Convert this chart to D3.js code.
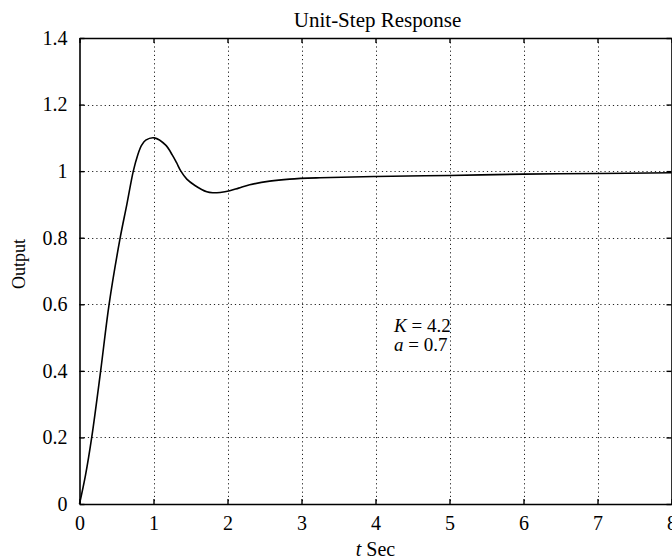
<!DOCTYPE html>
<html>
<head>
<meta charset="utf-8">
<script src="https://cdn.jsdelivr.net/npm/d3@7"></script>
<style>
  html, body { margin: 0; padding: 0; background: #fff; }
  svg { display: block; }
  text { font-family: "Liberation Serif", "Times New Roman", serif; fill: #000; }
</style>
</head>
<body>
<svg id="chart" width="672" height="560"></svg>
<script>
// ---- data ----
const timeSec = [0, 0.08, 0.165, 0.286, 0.40, 0.55, 0.64, 0.727, 0.786, 0.84, 0.895, 1.01, 1.165, 1.255, 1.31, 1.37, 1.45, 1.56, 1.72, 1.80, 1.90, 2.03, 2.15, 2.30, 2.57, 2.84, 3.25, 4.0, 5.0, 6.0, 7.0, 8.0];
const outputValues = [0, 0.085, 0.2, 0.4, 0.6, 0.8, 0.9, 1.0, 1.048, 1.078, 1.093, 1.10, 1.078, 1.048, 1.026, 1.0, 0.976, 0.957, 0.938, 0.935, 0.936, 0.941, 0.949, 0.959, 0.970, 0.976, 0.980, 0.984, 0.987, 0.991, 0.993, 0.995];
const xTickValues = [0, 1, 2, 3, 4, 5, 6, 7, 8];
const xTickLabels = ["0", "1", "2", "3", "4", "5", "6", "7", "8"];
const yTickValues = [0, 0.2, 0.4, 0.6, 0.8, 1.0, 1.2, 1.4];
const yTickLabels = ["0", "0.2", "0.4", "0.6", "0.8", "1", "1.2", "1.4"];
const titleText = "Unit-Step Response";
const yLabelText = "Output";
const paramLines = [["K", " = 4.2"], ["a", " = 0.7"]];

(function () {
// ---- layout ----
const svg = d3.select("#chart");
const pL = 79.5, pT = 38, pR = 671.5, pB = 504;
const x = d3.scaleLinear().domain([0, 8]).range([pL, pR]);
const y = d3.scaleLinear().domain([0, 1.4]).range([pB, pT]);
const fontSize = 20;

// gridlines
const grid = svg.append("g").attr("class", "grid");
grid.selectAll("line.vx").data(xTickValues.slice(1, -1)).join("line")
  .attr("x1", d => Math.round(x(d)) + 0.5).attr("x2", d => Math.round(x(d)) + 0.5)
  .attr("y1", pT).attr("y2", pB)
  .attr("stroke", "#222").attr("stroke-width", 1).attr("stroke-dasharray", "1.2,3");
grid.selectAll("line.hy").data(yTickValues.slice(1, -1)).join("line")
  .attr("y1", d => Math.round(y(d)) + 0.5).attr("y2", d => Math.round(y(d)) + 0.5)
  .attr("x1", pL).attr("x2", pR)
  .attr("stroke", "#222").attr("stroke-width", 1).attr("stroke-dasharray", "1.2,3");

// axes
const xFmt = (d) => xTickLabels[xTickValues.indexOf(d)];
const yFmt = (d) => yTickLabels[yTickValues.indexOf(d)];

function styleAxis(g) {
  g.selectAll("path.domain").attr("stroke", "#000").attr("stroke-width", 1.6);
  g.selectAll(".tick line").attr("stroke", "#000").attr("stroke-width", 1.4);
  g.selectAll(".tick text").style("font-family", "Liberation Serif, serif").style("font-size", fontSize + "px").attr("fill", "#000");
}

svg.append("g").attr("transform", `translate(0,${pB})`)
  .call(d3.axisBottom(x).tickValues(xTickValues).tickFormat(xFmt).tickSizeInner(-5).tickSizeOuter(0).tickPadding(12))
  .call(styleAxis);
svg.append("g").attr("transform", `translate(0,${pT})`)
  .call(d3.axisTop(x).tickValues(xTickValues).tickFormat("").tickSizeInner(-5).tickSizeOuter(0))
  .call(styleAxis);
svg.append("g").attr("transform", `translate(${pL},0)`)
  .call(d3.axisLeft(y).tickValues(yTickValues).tickFormat(yFmt).tickSizeInner(-5).tickSizeOuter(0).tickPadding(12))
  .call(styleAxis);
svg.append("g").attr("transform", `translate(${pR},0)`)
  .call(d3.axisRight(y).tickValues(yTickValues).tickFormat("").tickSizeInner(-5).tickSizeOuter(0))
  .call(styleAxis);

// response curve
const line = d3.line().x((d, i) => x(timeSec[i])).y(d => y(d)).curve(d3.curveCatmullRom.alpha(0.5));
svg.append("path").datum(outputValues)
  .attr("d", line).attr("fill", "none").attr("stroke", "#000").attr("stroke-width", 1.6);

// title
svg.append("text").attr("x", (pL + pR) / 2 + 2).attr("y", 27)
  .attr("text-anchor", "middle").style("font-size", "21px").text(titleText);

// x label
const xl = svg.append("text").attr("x", (pL + pR) / 2).attr("y", 556)
  .attr("text-anchor", "middle").style("font-size", fontSize + "px");
xl.append("tspan").style("font-style", "italic").text("t");
xl.append("tspan").text(" Sec");

// y label
svg.append("text").attr("transform", `translate(25,264) rotate(-90)`)
  .attr("text-anchor", "middle").style("font-size", "18px").text(yLabelText);

// parameter annotation
const ann = svg.append("g");
paramLines.forEach((p, i) => {
  const t = ann.append("text").attr("x", x(4.25)).attr("y", y(0.516) + i * 19)
    .style("font-size", "19px");
  t.append("tspan").style("font-style", "italic").text(p[0]);
  t.append("tspan").text(p[1]);
});
})();
</script>
</body>
</html>
